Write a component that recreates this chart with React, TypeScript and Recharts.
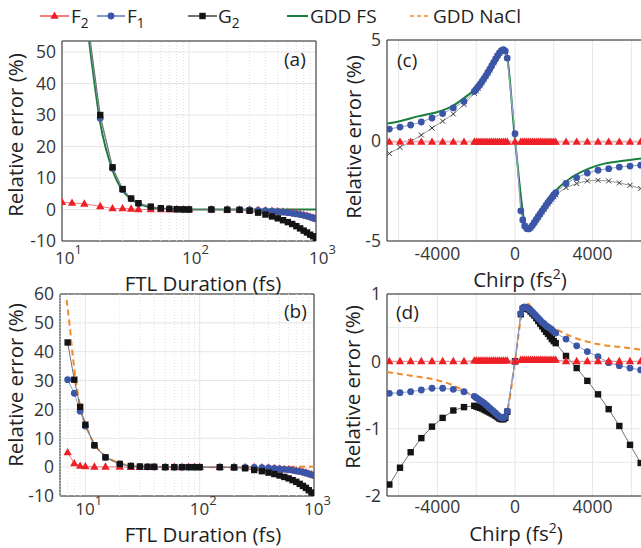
import React from 'react';
import {
  ComposedChart,
  Scatter,
  Line,
  XAxis,
  YAxis,
  CartesianGrid,
  ReferenceLine,
  ReferenceArea,
} from 'recharts';

const FONT = '"Open Sans", sans-serif';

// ---- (a) FTL duration sweep ----
const ftlA = [10, 12, 15, 20, 25, 30, 35, 40, 50, 60, 70, 80, 90, 100, 150, 200, 250, 300, 350, 400, 450, 500, 550, 600, 650, 700, 750, 800, 850, 900, 950, 1000];
const f2A = [2.3, 2.1, 1.8, 1.0, 0.3, 0.3, 0.2, 0.05, 0, 0, 0, 0, 0, 0, 0, 0, -0.05, -0.1, -0.15, -0.3, -0.45, -0.6, -0.75, -0.9, -1.1, -1.3, -1.5, -1.75, -2.0, -2.3, -2.6, -2.9];
const f1A = [null, null, 67, 29, 13.1, 6.3, 3.4, 1.9, 0.8, 0.35, 0.2, 0.1, 0.05, 0, 0, -0.05, -0.1, -0.15, -0.25, -0.4, -0.55, -0.7, -0.85, -1.0, -1.2, -1.4, -1.6, -1.85, -2.1, -2.4, -2.7, -3.0];
const g2A = [null, null, 68, 30, 13.4, 6.5, 3.5, 2.0, 0.9, 0.4, 0.2, 0.1, 0.05, 0, 0, -0.1, -0.1, -0.4, -1.0, -1.6, -2.2, -2.8, -3.4, -4.0, -4.6, -5.3, -6.0, -6.7, -7.3, -8.0, -8.5, -9.0];
const gddFsAX = [15, 17, 20, 25, 30, 35, 40, 50, 60, 80, 100, 200, 500, 1000];
const gddFsAY = [66, 48, 27.5, 12.5, 6.0, 3.3, 1.9, 0.7, 0.3, 0.1, 0.02, 0, 0, 0];

// ---- (b) FTL duration sweep ----
const ftlB = [7, 8, 9, 10, 12, 15, 20, 25, 30, 35, 40, 50, 60, 70, 80, 90, 100, 150, 200, 250, 300, 350, 400, 450, 500, 550, 600, 650, 700, 750, 800, 850, 900, 950, 1000];
const f2B = [5.1, 1.3, 0.4, 0.2, 0.1, 0.1, 0.05, 0, 0, 0, 0, 0, 0, 0, 0, 0, 0, 0, 0, 0, -0.05, -0.15, -0.25, -0.4, -0.55, -0.7, -0.85, -1.05, -1.25, -1.45, -1.7, -1.95, -2.25, -2.55, -2.85];
const f1B = [30.3, 25.6, 19.4, 14.2, 7.5, 3.4, 1.1, 0.4, 0.2, 0.1, 0.05, 0, 0, 0, 0, 0, 0, 0, 0, -0.05, -0.1, -0.2, -0.3, -0.45, -0.6, -0.75, -0.9, -1.1, -1.3, -1.5, -1.75, -2.0, -2.3, -2.6, -2.9];
const g2B = [43.2, 30.3, 20.9, 14.7, 7.6, 3.4, 1.1, 0.4, 0.2, 0.1, 0.1, 0, 0, 0, 0, 0, 0, 0, -0.1, -0.4, -1.0, -1.4, -1.9, -2.4, -2.9, -3.4, -3.9, -4.5, -5.1, -5.8, -6.5, -7.2, -8.0, -8.8, -9.5];
const gddNaclBX = [6.85, 7.3, 7.6, 8, 8.6, 9, 10, 11.7, 14.8, 20, 29, 50, 100, 200, 500, 1000];
const gddNaclBY = [58, 49, 42, 34, 25.5, 21, 15, 8.7, 4.1, 1.4, 0.4, 0.1, 0, 0, 0.05, 0.2];

// ---- (c) and (d) chirp sweep ----
const chirpX = [
  -6480, -5930, -5380, -4830, -4280, -3730, -3180, -2630,
  -2100, -2000, -1900, -1800, -1700, -1600, -1500, -1400, -1300, -1200, -1100, -1000, -900, -800, -700, -600, -500, -400,
  0,
  300, 400, 500, 600, 700, 800, 900, 1000, 1100, 1200, 1300, 1400, 1500, 1600, 1700, 1800, 1900, 2000, 2100,
  2630, 3180, 3730, 4280, 4830, 5380, 5930, 6480,
];
const f2C = [
  -0.07, -0.07, -0.07, -0.07, -0.07, -0.07, -0.07, -0.07,
  -0.07, -0.07, -0.07, -0.07, -0.07, -0.07, -0.07, -0.07, -0.07, -0.07, -0.07, -0.07, -0.07, -0.07, -0.07, -0.07, -0.07, -0.07,
  -0.07,
  -0.07, -0.07, -0.07, -0.07, -0.07, -0.07, -0.07, -0.07, -0.07, -0.07, -0.07, -0.07, -0.07, -0.07, -0.07, -0.07, -0.07, -0.07, -0.07,
  -0.07, -0.07, -0.07, -0.07, -0.07, -0.07, -0.07, -0.07,
];
const f1C = [
  0.57, 0.67, 0.77, 0.92, 1.12, 1.34, 1.62, 1.94,
  2.44, 2.55, 2.68, 2.8, 2.94, 3.08, 3.23, 3.39, 3.55, 3.72, 3.89, 4.06, 4.22, 4.36, 4.47, 4.52, 4.45, 4.1,
  0.34,
  -3.5, -3.95, -4.25, -4.38, -4.4, -4.33, -4.22, -4.08, -3.93, -3.78, -3.64, -3.5, -3.36, -3.22, -3.08, -2.95, -2.83, -2.7, -2.6,
  -2.14, -1.85, -1.62, -1.48, -1.4, -1.32, -1.27, -1.23,
];
const g2C = [
  -0.65, -0.34, -0.05, 0.27, 0.62, 0.96, 1.32, 1.79,
  2.35, 2.47, 2.6, 2.73, 2.87, 3.02, 3.18, 3.34, 3.51, 3.68, 3.86, 4.03, 4.2, 4.34, 4.46, 4.5, 4.43, 4.08,
  0.34,
  -3.5, -3.95, -4.25, -4.38, -4.41, -4.35, -4.24, -4.1, -3.96, -3.82, -3.68, -3.55, -3.42, -3.29, -3.16, -3.04, -2.92, -2.8, -2.7,
  -2.34, -2.14, -2.01, -1.98, -2.01, -2.11, -2.23, -2.39,
];
const gddFsCX = [-6600, -6000, -5000, -4000, -3250, -2400, -2000, -1550, -1200, -850, -600, -450, 0, 550, 650, 850, 1200, 1700, 2200, 2900, 3800, 4600, 5500, 6600];
const gddFsCY = [0.85, 0.95, 1.2, 1.42, 1.7, 2.28, 2.6, 3.18, 3.72, 4.27, 4.55, 4.38, 0.05, -4.3, -4.43, -4.3, -3.8, -3.06, -2.4, -1.85, -1.4, -1.15, -1.02, -0.88];

const f2D = [
  0, 0, 0, 0, 0, 0, 0, 0,
  0.01, 0.01, 0.01, 0.01, 0.01, 0.01, 0.01, 0.01, 0.01, 0.01, 0.01, 0.01, 0.01, 0.01, 0.01, 0.01, 0.01, 0.01,
  0,
  0.02, 0.02, 0.02, 0.02, 0.02, 0.02, 0.02, 0.02, 0.02, 0.02, 0.02, 0.02, 0.02, 0.02, 0.02, 0.02, 0.02, 0.02, 0.02,
  0, 0, 0, 0, 0, 0, 0, 0,
];
const f1D = [
  -0.475, -0.466, -0.45, -0.426, -0.4, -0.4, -0.416, -0.45,
  -0.52, -0.54, -0.56, -0.58, -0.6, -0.62, -0.645, -0.67, -0.695, -0.72, -0.745, -0.77, -0.8, -0.82, -0.84, -0.84, -0.82, -0.74,
  0,
  0.71, 0.79, 0.81, 0.8, 0.78, 0.76, 0.73, 0.7, 0.67, 0.64, 0.61, 0.58, 0.56, 0.53, 0.51, 0.49, 0.47, 0.44, 0.42,
  0.33, 0.23, 0.145, 0.07, -0.02, -0.064, -0.1, -0.128,
];
const g2D = [
  -1.83, -1.58, -1.35, -1.14, -0.97, -0.84, -0.73, -0.68,
  -0.66, -0.67, -0.68, -0.69, -0.7, -0.715, -0.73, -0.745, -0.76, -0.775, -0.79, -0.81, -0.83, -0.85, -0.86, -0.86, -0.84, -0.75,
  0,
  0.7, 0.78, 0.8, 0.79, 0.77, 0.74, 0.71, 0.68, 0.64, 0.6, 0.56, 0.52, 0.48, 0.44, 0.41, 0.37, 0.33, 0.3, 0.27,
  0.08, -0.1, -0.29, -0.49, -0.71, -0.96, -1.24, -1.51,
];
const gddNaclDX = [-6600, -5000, -4000, -3250, -2400, -2000, -1550, -1150, -770, -600, -400, 0, 400, 550, 700, 900, 1200, 1600, 2050, 2900, 3750, 4600, 5500, 6600];
const gddNaclDY = [-0.16, -0.23, -0.28, -0.35, -0.475, -0.54, -0.65, -0.74, -0.83, -0.86, -0.74, 0, 0.78, 0.87, 0.85, 0.78, 0.67, 0.57, 0.49, 0.37, 0.29, 0.24, 0.21, 0.17];

// ---- ticks ----
const ticksLog = [10, 100, 1000];
const minorA = [20, 30, 40, 50, 60, 70, 80, 90, 200, 300, 400, 500, 600, 700, 800, 900];
const minorB = [6, 7, 8, 9, 20, 30, 40, 50, 60, 70, 80, 90, 200, 300, 400, 500, 600, 700, 800, 900];
const yTicksA = [-10, 0, 10, 20, 30, 40, 50];
const yTicksB = [-10, 0, 10, 20, 30, 40, 50, 60];
const chirpTicks = [-6000, -4000, -2000, 0, 2000, 4000, 6000];
const chirpLabels = [-4000, 0, 4000];
const yTicksC = [-5, 0, 5];
const yTicksD = [-2, -1.5, -1, -0.5, 0, 0.5, 1];

const C = {
  red: '#ee2027',
  redLine: '#f27b80',
  blue: '#3b56a6',
  blueLine: '#8ea1d4',
  black: '#141414',
  blackLine: '#707070',
  cross: '#3a3a3a',
  crossLine: '#9a9a9a',
  green: '#1a7d3c',
  orange: '#f28c28',
  axis: '#262626',
  tick: '#353535',
};

const pts = (xs: number[], ys: (number | null)[]) =>
  xs.map((x, i) => ({ x, y: ys[i] })).filter((p) => p.y !== null);

const marker = (kind: string, color: string) => (p: any) => {
  const { cx, cy } = p;
  if (cx == null || cy == null || isNaN(cx) || isNaN(cy)) return <g />;
  if (kind === 'tri')
    return <polygon points={`${cx},${cy - 4.5} ${cx + 4.2},${cy + 2.8} ${cx - 4.2},${cy + 2.8}`} fill={color} />;
  if (kind === 'circ') return <circle cx={cx} cy={cy} r={3.4} fill={color} />;
  if (kind === 'sq') return <rect x={cx - 3.2} y={cy - 3.2} width={6.4} height={6.4} fill={color} />;
  return (
    <g stroke={color} strokeWidth={1}>
      <line x1={cx - 2.5} y1={cy - 2.5} x2={cx + 2.5} y2={cy + 2.5} />
      <line x1={cx - 2.5} y1={cy + 2.5} x2={cx + 2.5} y2={cy - 2.5} />
    </g>
  );
};

const PAD = { l: 50, t: 14, r: 34, b: 40 };

interface PanelProps {
  plot: [number, number, number, number];
  xDomain: [number, number];
  yDomain: [number, number];
  xTicks: number[];
  yTicks: number[];
  log?: boolean;
  minor?: number[];
  xTick: (p: any) => React.ReactElement;
  yFmt: (v: number) => string;
  children: React.ReactNode;
}

function Panel({ plot, xDomain, yDomain, xTicks, yTicks, log, minor = [], xTick, yFmt, children }: PanelProps) {
  const [L, T, R, B] = plot;
  const w = R - L;
  const h = B - T;
  return (
    <div style={{ position: 'absolute', left: L - PAD.l, top: T - PAD.t }}>
      <ComposedChart
        width={w + PAD.l + PAD.r}
        height={h + PAD.t + PAD.b}
        margin={{ top: PAD.t, right: PAD.r, bottom: 0, left: 0 }}
      >
        <CartesianGrid stroke="#e6e6e6" />
        {minor.map((v) => (
          <ReferenceLine key={v} x={v} stroke="#e0e0e0" strokeDasharray="1 2" />
        ))}
        <XAxis
          dataKey="x"
          type="number"
          scale={log ? 'log' : 'linear'}
          domain={xDomain}
          ticks={xTicks}
          interval={0}
          allowDataOverflow
          height={PAD.b}
          tickSize={0}
          tickMargin={0}
          tickLine={false}
          axisLine={false}
          tick={xTick}
        />
        <YAxis
          dataKey="y"
          type="number"
          domain={yDomain}
          ticks={yTicks}
          interval={0}
          allowDataOverflow
          width={PAD.l}
          tickSize={0}
          tickMargin={0}
          tickLine={false}
          axisLine={false}
          tick={(p: any) => (
            <text x={p.x - 6} y={p.y} dy="0.36em" textAnchor="end" fontSize={17.5} fill={C.tick} fontFamily={FONT}>
              {yFmt(p.payload.value)}
            </text>
          )}
        />
        {children}
        <ReferenceArea
          x1={xDomain[0]}
          x2={xDomain[1]}
          y1={yDomain[0]}
          y2={yDomain[1]}
          fill="none"
          stroke={C.axis}
          strokeWidth={1}
          ifOverflow="visible"
        />
      </ComposedChart>
    </div>
  );
}

const logTick = (shift: number, dy: number) => (p: any) => (
  <text x={p.x + shift} y={p.y + dy} fontSize={17} fill={C.tick} fontFamily={FONT}>
    10
    <tspan dy={-10} fontSize={13}>
      {Math.round(Math.log10(p.payload.value))}
    </tspan>
  </text>
);

const chirpTick = (dy: number) => (p: any) => (
  <text x={p.x} y={p.y + dy} textAnchor="middle" fontSize={17.5} fill={C.tick} fontFamily={FONT}>
    {chirpLabels.includes(p.payload.value) ? String(p.payload.value) : ''}
  </text>
);

const scatter = (key: string, data: any[], kind: string, color: string, lineColor: string) => (
  <Scatter
    key={key}
    data={data}
    shape={marker(kind, color)}
    line={{ stroke: lineColor, strokeWidth: 1 }}
    lineType="joint"
    isAnimationActive={false}
  />
);

const curve = (key: string, data: any[], color: string, dash?: string) => (
  <Line
    key={key}
    data={data}
    dataKey="y"
    type="monotone"
    stroke={color}
    strokeWidth={2}
    strokeDasharray={dash}
    dot={false}
    activeDot={false}
    isAnimationActive={false}
  />
);

const intFmt = (v: number) => (Number.isInteger(v) ? String(v) : '');

function Sub({ x, y, base, sub, size = 19 }: { x: number; y: number; base: string; sub: string; size?: number }) {
  return (
    <text x={x} y={y} fontSize={size} fill="#1e1e1e" fontFamily={FONT}>
      {base}
      <tspan dy={5} fontSize={size * 0.72}>
        {sub}
      </tspan>
    </text>
  );
}

function Overlay() {
  const title = { fontSize: 20.5, fill: '#1e1e1e', fontFamily: FONT };
  return (
    <svg width={641} height={548} style={{ position: 'absolute', left: 0, top: 0, pointerEvents: 'none' }}>
      {/* legend */}
      <line x1={40} y1={16} x2={69} y2={16} stroke={C.red} strokeWidth={1.2} />
      {marker('tri', C.red)({ cx: 54.5, cy: 16 })}
      <Sub x={71} y={23} base="F" sub="2" />
      <line x1={97} y1={16} x2={125} y2={16} stroke={C.blue} strokeWidth={1.2} />
      {marker('circ', C.blue)({ cx: 111, cy: 16 })}
      <Sub x={127} y={23} base="F" sub="1" />
      <line x1={188} y1={16} x2={217} y2={16} stroke={C.black} strokeWidth={1.2} />
      {marker('sq', C.black)({ cx: 202.5, cy: 16 })}
      <Sub x={218} y={23} base="G" sub="2" />
      <line x1={287} y1={16} x2={308} y2={16} stroke={C.green} strokeWidth={2} />
      <text x={310} y={23} fontSize={19} fill="#1e1e1e" fontFamily={FONT}>GDD FS</text>
      <line x1={410} y1={16} x2={431} y2={16} stroke={C.orange} strokeWidth={1.5} strokeDasharray="4 3" />
      <text x={433} y={23} fontSize={19} fill="#1e1e1e" fontFamily={FONT}>GDD NaCl</text>

      {/* axis titles */}
      <text {...title} textAnchor="middle" transform="translate(23,135) rotate(-90)">Relative error (%)</text>
      <text {...title} textAnchor="middle" transform="translate(23,385) rotate(-90)">Relative error (%)</text>
      <text {...title} textAnchor="middle" transform="translate(361,137) rotate(-90)">Relative error (%)</text>
      <text {...title} textAnchor="middle" transform="translate(360,387) rotate(-90)">Relative error (%)</text>
      <text {...title} textAnchor="middle" x={203} y={291}>FTL Duration (fs)</text>
      <text {...title} textAnchor="middle" x={203} y={542}>FTL Duration (fs)</text>
      <text {...title} textAnchor="middle" x={520} y={287}>
        Chirp (fs<tspan dy={-8} fontSize={14}>2</tspan><tspan dy={8}>)</tspan>
      </text>
      <text {...title} textAnchor="middle" x={516} y={541}>
        Chirp (fs<tspan dy={-8} fontSize={14}>2</tspan><tspan dy={8}>)</tspan>
      </text>

      {/* panel tags */}
      <text x={284} y={66} fontSize={19} fill="#1e1e1e" fontFamily={FONT}>(a)</text>
      <text x={284} y={318} fontSize={19} fill="#1e1e1e" fontFamily={FONT}>(b)</text>
      <text x={397} y={67} fontSize={19} fill="#1e1e1e" fontFamily={FONT}>(c)</text>
      <text x={396} y={319} fontSize={19} fill="#1e1e1e" fontFamily={FONT}>(d)</text>
    </svg>
  );
}

export default function App() {
  return (
    <div
      style={{
        position: 'absolute',
        left: 0,
        top: 0,
        width: 641,
        height: 548,
        overflow: 'hidden',
        background: '#fff',
        fontFamily: FONT,
      }}
    >
      <Panel
        plot={[62, 41, 316, 241]}
        xDomain={[10, 1000]}
        yDomain={[-10, 53.5]}
        xTicks={ticksLog}
        yTicks={yTicksA}
        log
        minor={minorA}
        xTick={logTick(-7, 23)}
        yFmt={(v) => String(v)}
      >
        {scatter('f2a', pts(ftlA, f2A), 'tri', C.red, C.redLine)}
        {scatter('f1a', pts(ftlA, f1A), 'circ', C.blue, C.blueLine)}
        {scatter('g2a', pts(ftlA, g2A), 'sq', C.black, C.blackLine)}
        {curve('gdda', pts(gddFsAX, gddFsAY), C.green)}
      </Panel>

      <Panel
        plot={[60, 294, 314, 496]}
        xDomain={[6, 1000]}
        yDomain={[-10, 60]}
        xTicks={ticksLog}
        yTicks={yTicksB}
        log
        minor={minorB}
        xTick={logTick(-10, 19)}
        yFmt={(v) => String(v)}
      >
        {scatter('f2b', pts(ftlB, f2B), 'tri', C.red, C.redLine)}
        {scatter('f1b', pts(ftlB, f1B), 'circ', C.blue, C.blueLine)}
        {scatter('g2b', pts(ftlB, g2B), 'sq', C.black, C.blackLine)}
        {curve('gddb', pts(gddNaclBX, gddNaclBY), C.orange, '6 4')}
      </Panel>

      <Panel
        plot={[387, 40, 643, 241]}
        xDomain={[-6600, 6600]}
        yDomain={[-5, 5]}
        xTicks={chirpTicks}
        yTicks={yTicksC}
        xTick={chirpTick(19)}
        yFmt={(v) => String(v)}
      >
        {scatter('g2c', pts(chirpX, g2C), 'cross', C.cross, C.crossLine)}
        {scatter('f1c', pts(chirpX, f1C), 'circ', C.blue, C.blueLine)}
        {scatter('f2c', pts(chirpX, f2C), 'tri', C.red, C.redLine)}
        {curve('gddc', pts(gddFsCX, gddFsCY), C.green)}
      </Panel>

      <Panel
        plot={[387, 294, 643, 496]}
        xDomain={[-6600, 6600]}
        yDomain={[-2, 1]}
        xTicks={chirpTicks}
        yTicks={yTicksD}
        xTick={chirpTick(17)}
        yFmt={intFmt}
      >
        {scatter('g2d', pts(chirpX, g2D), 'sq', C.black, C.blackLine)}
        {scatter('f1d', pts(chirpX, f1D), 'circ', C.blue, C.blueLine)}
        {scatter('f2d', pts(chirpX, f2D), 'tri', C.red, C.redLine)}
        {curve('gddd', pts(gddNaclDX, gddNaclDY), C.orange, '6 4')}
      </Panel>

      <Overlay />
    </div>
  );
}
